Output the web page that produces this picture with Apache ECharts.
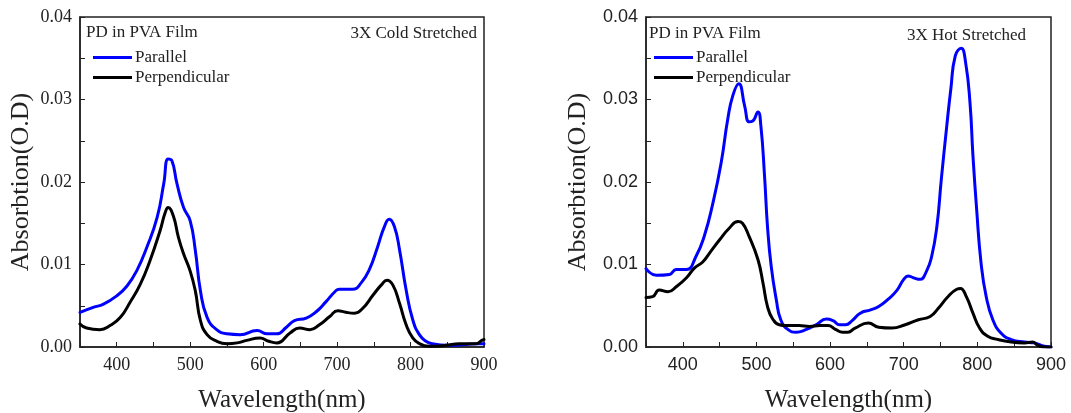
<!DOCTYPE html>
<html>
<head>
<meta charset="utf-8">
<script src="https://cdn.jsdelivr.net/npm/echarts@6/dist/echarts.min.js"></script>
<style>
html,body{margin:0;padding:0;background:#fff;}
#chart{width:1071px;height:413px;}
</style>
</head>
<body>
<div id="chart"></div>
<script>
// ---- Data ----
var coldParNm  = [350,368,382,400,414,427,441,455,464,470,475,482,491,500,507,514,523,536,550,568,591,605,618,631,642,658,672,685,697,703,721,733,744,755,764,771,778,785,794,803,812,821,830,848,875,893,900];
var coldParAbs = [0.0042,0.0048,0.0052,0.0062,0.0074,0.0092,0.0121,0.0157,0.0198,0.0228,0.0226,0.0198,0.0169,0.0153,0.0117,0.0068,0.0036,0.0021,0.0016,0.0015,0.0020,0.0016,0.0016,0.0024,0.0032,0.0035,0.0043,0.0055,0.0067,0.0070,0.0070,0.0078,0.0094,0.0121,0.0145,0.0155,0.0146,0.0118,0.0069,0.0033,0.0015,0.0007,0.0004,0.0002,0.0003,0.0004,0.0004];

var coldPerNm  = [350,359,377,391,405,418,432,445,459,466,470,477,484,491,500,507,514,523,536,550,564,577,595,607,618,636,649,663,676,690,701,712,724,735,749,760,768,776,785,794,803,812,826,848,866,880,889,897,900];
var coldPerAbs = [0.0028,0.0023,0.0021,0.0026,0.0036,0.0054,0.0076,0.0104,0.0141,0.0163,0.0169,0.0159,0.0133,0.0113,0.0092,0.0068,0.0032,0.0015,0.0007,0.0004,0.0005,0.0008,0.0011,0.0007,0.0005,0.0017,0.0023,0.0021,0.0027,0.0037,0.0044,0.0042,0.0041,0.0047,0.0063,0.0075,0.0081,0.0075,0.0053,0.0027,0.0011,0.0004,0.0001,0.0002,0.0004,0.0004,0.0004,0.0008,0.0009];

var hotParNm  = [350,364,382,391,405,418,429,441,452,461,468,476,484,490,495,502,506,511,515,520,527,533,543,554,567,581,595,604,613,621,630,641,655,666,679,691,700,706,713,722,731,738,745,751,758,764,770,778,784,790,794,799,805,812,821,832,846,864,877,891,900];
var hotParAbs = [0.0095,0.0087,0.0088,0.0094,0.0094,0.0110,0.0134,0.0175,0.0223,0.0276,0.0305,0.0319,0.0292,0.0273,0.0274,0.0285,0.0268,0.0207,0.0146,0.0098,0.0057,0.0033,0.0021,0.0018,0.0021,0.0027,0.0034,0.0032,0.0027,0.0027,0.0032,0.0041,0.0045,0.0049,0.0058,0.0069,0.0082,0.0086,0.0084,0.0082,0.0092,0.0110,0.0146,0.0203,0.0264,0.0313,0.0353,0.0362,0.0345,0.0296,0.0232,0.0167,0.0102,0.0061,0.0033,0.0017,0.0009,0.0006,0.0005,0.0001,0.0000];

var hotPerNm  = [350,359,368,380,391,405,416,427,438,450,463,475,481,490,502,509,515,522,531,540,558,572,586,597,608,617,624,634,652,666,684,702,720,736,747,760,772,777,785,794,803,814,828,846,864,875,882,891,900];
var hotPerAbs = [0.0060,0.0061,0.0069,0.0067,0.0073,0.0084,0.0096,0.0103,0.0116,0.0130,0.0144,0.0152,0.0150,0.0134,0.0106,0.0077,0.0049,0.0034,0.0027,0.0026,0.0026,0.0025,0.0026,0.0026,0.0021,0.0018,0.0018,0.0023,0.0029,0.0024,0.0023,0.0027,0.0033,0.0037,0.0047,0.0061,0.0070,0.0071,0.0061,0.0041,0.0023,0.0013,0.0009,0.0006,0.0005,0.0006,0.0002,0.0000,0.0000];

var seriesNames = ['Parallel', 'Perpendicular'];
var panelTitles = ['3X Cold Stretched', '3X Hot Stretched'];
var sampleLabel = 'PD in PVA Film';
var xAxisTitle = 'Wavelength(nm)';
var yAxisTitle = 'Absorbtion(O.D)';

function pairs(xs, ys){ return xs.map(function(x,i){ return [x, ys[i]]; }); }

var serif = '"Liberation Serif","Times New Roman",serif';
var sans = '"Liberation Sans",Arial,sans-serif';
var txtColor = '#222';

function xAxisCfg(gi, font){
  return {
    type:'value', gridIndex:gi, min:350, max:900, interval:50,
    name:xAxisTitle, nameLocation:'middle', nameGap:41,
    nameTextStyle:{fontFamily:serif, fontSize:25, color:txtColor},
    axisLine:{show:true, onZero:false, lineStyle:{color:'#222', width:1.5}},
    axisTick:{show:true, inside:true, length:5, lineStyle:{color:'#222', width:1}},
    axisLabel:{margin:9, fontFamily:font, fontSize:18, color:txtColor,
      formatter:function(v){ return (v % 100 === 0 && v > 350) ? String(v) : ''; }},
    splitLine:{show:false}
  };
}
function yAxisCfg(gi, font, gap){
  return {
    type:'value', gridIndex:gi, min:0, max:0.04, interval:0.005,
    name:yAxisTitle, nameLocation:'middle', nameGap:gap,
    nameTextStyle:{fontFamily:serif, fontSize:26, color:txtColor},
    axisLine:{show:true, onZero:false, lineStyle:{color:'#222', width:1.5}},
    axisTick:{show:true, inside:true, length:5, lineStyle:{color:'#222', width:1}},
    axisLabel:{margin:8, fontFamily:font, fontSize:18, color:txtColor,
      formatter:function(v){ var k = v*100; return Math.abs(Math.round(k)-k) < 1e-6 ? v.toFixed(2) : ''; }},
    splitLine:{show:false}
  };
}
function lineSeries(name, gi, data, color){
  return {
    type:'line', name:name, xAxisIndex:gi, yAxisIndex:gi, data:data,
    showSymbol:false, symbol:'none', smooth:0.5,
    lineStyle:{color:color, width:3, join:'round', cap:'round'}, itemStyle:{color:color}, animation:false
  };
}
function legendCfg(left){
  return {
    left:left, top:44, orient:'vertical', itemWidth:39, itemHeight:3, itemGap:3,
    icon:'rect', data:seriesNames, selectedMode:false,
    textStyle:{fontFamily:serif, fontSize:17, lineHeight:17, color:txtColor, padding:[0,0,0,-2]}
  };
}

var chart = echarts.init(document.getElementById('chart'), null, {renderer:'canvas'});
chart.setOption({
  backgroundColor:'#fff',
  animation:false,
  grid:[
    {left:80, right:587, top:17, bottom:66, show:true, borderColor:'#222', borderWidth:1.5, containLabel:false, outerBoundsMode:'none'},
    {left:646, right:20, top:17, bottom:66, show:true, borderColor:'#222', borderWidth:1.5, containLabel:false, outerBoundsMode:'none'}
  ],
  xAxis:[xAxisCfg(0, serif), xAxisCfg(1, sans)],
  yAxis:[yAxisCfg(0, serif, 46), yAxisCfg(1, sans, 55)],
  legend:[legendCfg(88), legendCfg(649)],
  graphic:[
    {type:'text', left:86, top:24, style:{text:sampleLabel, font:'17px '+serif, fill:txtColor}},
    {type:'text', right:1071-477, top:25, style:{text:panelTitles[0], font:'17px '+serif, fill:txtColor}},
    {type:'text', left:649, top:25, style:{text:sampleLabel, font:'17px '+serif, fill:txtColor}},
    {type:'text', right:1071-1026, top:27, style:{text:panelTitles[1], font:'17px '+serif, fill:txtColor}}
  ],
  series:[
    lineSeries(seriesNames[0], 0, pairs(coldParNm, coldParAbs), '#0000ff'),
    lineSeries(seriesNames[1], 0, pairs(coldPerNm, coldPerAbs), '#000000'),
    lineSeries(seriesNames[0], 1, pairs(hotParNm, hotParAbs), '#0000ff'),
    lineSeries(seriesNames[1], 1, pairs(hotPerNm, hotPerAbs), '#000000')
  ]
});
</script>
</body>
</html>
